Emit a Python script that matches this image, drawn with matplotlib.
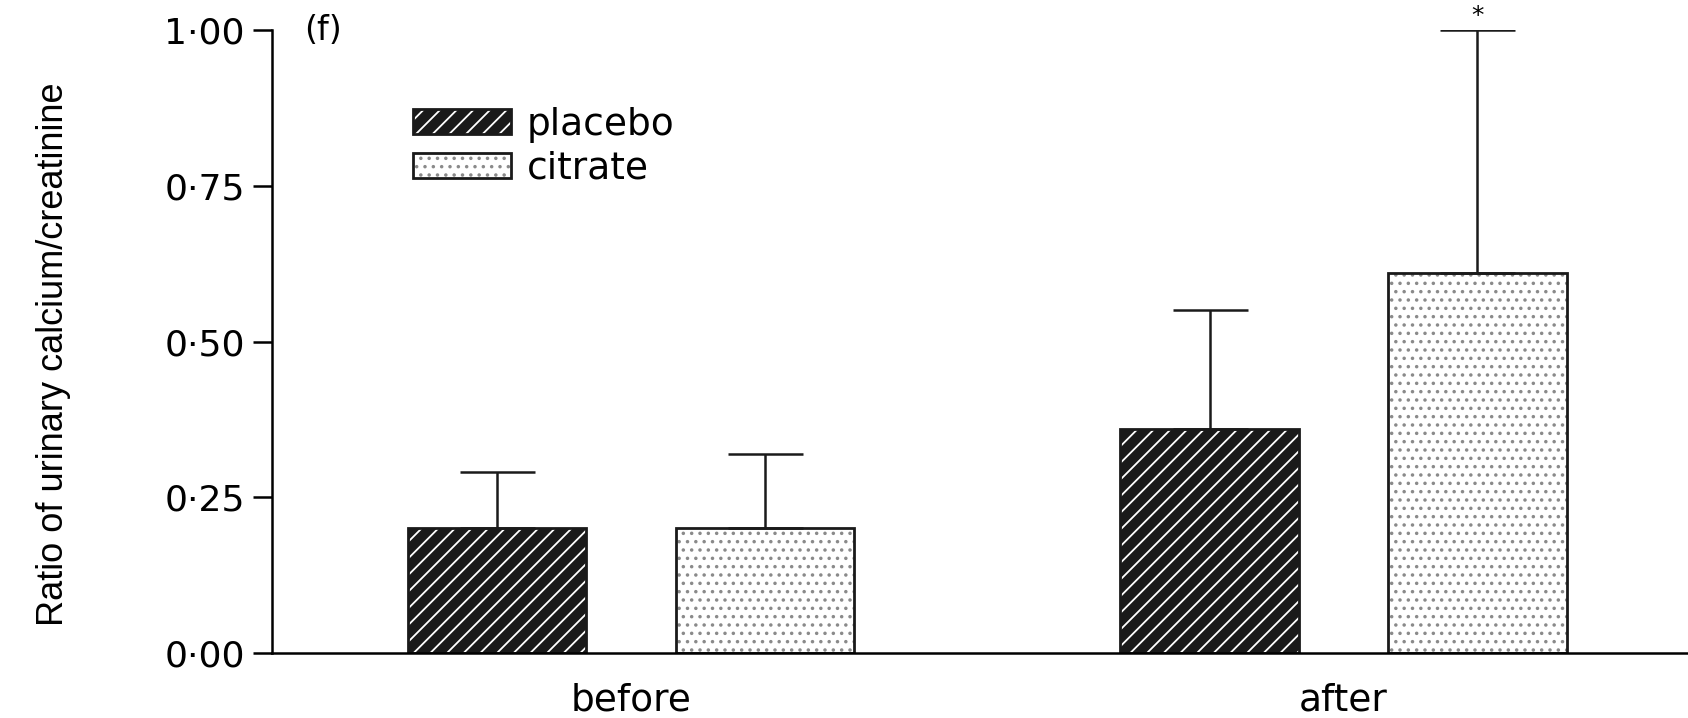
import matplotlib
matplotlib.use('Agg')
import matplotlib.pyplot as plt
from matplotlib.legend_handler import HandlerTuple

# data
groups = ['before', 'after']
series = ['placebo', 'citrate']
means = {'placebo': [0.20, 0.36], 'citrate': [0.20, 0.61]}
sds = {'placebo': [0.09, 0.19], 'citrate': [0.12, 0.39]}
ytick_vals = [0.0, 0.25, 0.50, 0.75, 1.00]
ytick_labels = ['0·00', '0·25', '0·50', '0·75', '1·00']

plt.rcParams['font.family'] = ['DejaVu Sans']
plt.rcParams['hatch.linewidth'] = 1.3

fig = plt.figure(figsize=(16.88, 7.18), dpi=100)
ax = fig.add_axes([0.161, 0.0905, 0.839, 0.8675])

offset = 0.188
width = 0.25
styles = {
    'placebo': dict(face='#1a1a1a', hatch='//', hcolor='white'),
    'citrate': dict(face='white', hatch='..', hcolor='#8a8a8a'),
}
handles = []
for i, s in enumerate(series):
    xs = [g + (-offset if i == 0 else offset) for g in range(len(groups))]
    st = styles[s]
    fill = ax.bar(xs, means[s], width, color=st['face'], edgecolor=st['hcolor'],
                  hatch=st['hatch'], linewidth=0)
    edge = ax.bar(xs, means[s], width, fill=False, edgecolor='#1a1a1a', linewidth=2.0)
    ax.errorbar(xs, means[s], yerr=[[0] * len(xs), sds[s]], fmt='none',
                ecolor='#1a1a1a', elinewidth=1.8, capsize=27, capthick=1.8)
    handles.append((fill.patches[0], edge.patches[0]))

# significance mark over the after/citrate bar
ax.text(1 + offset, means['citrate'][1] + sds['citrate'][1] + 0.004, '*',
        ha='center', va='bottom', fontsize=18, clip_on=False)

ax.set_xlim(-0.504, 1.4835)
ax.set_ylim(0, 1.0)
ax.set_yticks(ytick_vals)
ax.set_yticklabels(ytick_labels, fontsize=26)
ax.set_xticks(range(len(groups)))
ax.set_xticklabels(groups, fontsize=27)
ax.tick_params(axis='x', length=0, pad=21)
ax.tick_params(axis='y', length=13.5, width=1.8, pad=6)
ax.spines['top'].set_visible(False)
ax.spines['right'].set_visible(False)
ax.spines['left'].set_linewidth(1.8)
ax.spines['bottom'].set_linewidth(1.8)

ax.set_ylabel('Ratio of urinary calcium/creatinine', fontsize=26,
              family=['Liberation Sans Narrow', 'Liberation Sans'])
ax.yaxis.set_label_coords(-0.142, 0.48)

ax.text(0.0226, 1.0, '(f)', transform=ax.transAxes, fontsize=24, va='center', ha='left')

ax.legend(handles, series, handler_map={tuple: HandlerTuple(ndivide=1, pad=0)},
          loc='upper left', bbox_to_anchor=(0.100, 0.877), frameon=False,
          fontsize=27, borderpad=0, borderaxespad=0, handlelength=2.6,
          handleheight=0.65, handletextpad=0.42, labelspacing=0.2)

fig.savefig('out.png', dpi=100)
